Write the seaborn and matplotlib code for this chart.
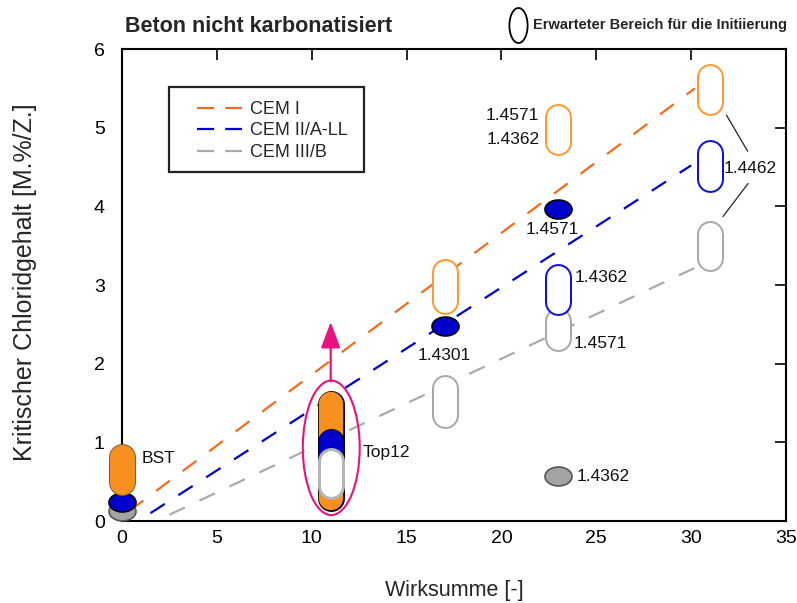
import numpy as np
import pandas as pd
import seaborn as sns
import matplotlib.pyplot as plt
from matplotlib.path import Path
from matplotlib.patches import Ellipse, Rectangle
from matplotlib.lines import Line2D

# trend lines (start / end)
cem1_x = [0.4, 30.2]
cem1_y = [0.13, 5.50]
cem2_x = [1.5, 30.0]
cem2_y = [0.10, 4.52]
cem3_x = [2.5, 30.3]
cem3_y = [0.08, 3.23]
series_names = ["CEM I", "CEM II/A-LL", "CEM III/B"]

# expected ranges (open capsules): x, lower, upper
orange_rng_x = [17, 23, 31]
orange_rng_lo = [2.62, 4.65, 5.16]
orange_rng_hi = [3.34, 5.31, 5.82]
blue_rng_x = [23, 31]
blue_rng_lo = [2.61, 4.18]
blue_rng_hi = [3.27, 4.85]
gray_rng_x = [17, 23, 31]
gray_rng_lo = [1.18, 2.15, 3.17]
gray_rng_hi = [1.86, 2.72, 3.82]

# measured ranges (filled capsules)
bst_x = 0
bst_rng = [0.33, 0.99]
top12_x = 11
top12_orange = [0.12, 1.66]
top12_blue = [0.60, 1.18]
top12_white = [0.27, 0.93]

# single measured values (filled ellipses)
blue_pts_x = [0, 17, 23]
blue_pts_y = [0.245, 2.48, 3.97]
gray_pts_x = [0, 23]
gray_pts_y = [0.13, 0.57]

# text labels: x, y, text, alignment
label_x = [1.05, 12.7, 17.0, 22.7, 23.85, 23.8, 22.0, 22.0, 31.7, 23.95]
label_y = [0.80, 0.87, 2.11, 3.70, 3.10, 2.26, 5.16, 4.85, 4.48, 0.57]
label_txt = ["BST", "Top12", "1.4301", "1.4571", "1.4362", "1.4571",
             "1.4571", "1.4362", "1.4462", "1.4362"]
label_ha = ["left", "left", "center", "center", "left", "left",
            "right", "right", "left", "left"]

# leader lines for 1.4462 (from label to capsule)
leader_from = [(32.98, 4.70), (33.0, 4.29)]
leader_to = [(31.86, 5.16), (31.68, 3.87)]

ORANGE_LINE = "#F26B1D"
ORANGE = "#F7901E"
BLUE = "#0000CC"
GRAY_LINE = "#AAAAAA"
GRAY = "#A3A3A3"
MAGENTA = "#E8127F"

sns.set_theme(style="white")
plt.rcParams["font.family"] = ["Liberation Sans", "DejaVu Sans"]

fig = plt.figure(figsize=(7.97, 6.03), dpi=100)
ax = fig.add_axes([122 / 797, 82 / 603, 664 / 797, 472 / 603])
ax.set_xlim(0, 35)
ax.set_ylim(0, 6)

px_per_y = ax.transData.transform((0, 1))[1] - ax.transData.transform((0, 0))[1]
PT = 72 / fig.dpi


def capsule(x, lo, hi, face, edge, width=27, edge_px=2.0, z=3):
    r = width / 2 / px_per_y
    ax.plot([x, x], [lo + r, hi - r], color=edge, lw=width * PT,
            solid_capstyle="round", zorder=z, clip_on=False)
    ax.plot([x, x], [lo + r, hi - r], color=face, lw=(width - 2 * edge_px) * PT,
            solid_capstyle="round", zorder=z + 0.01, clip_on=False)


dash = (0, (7.7, 7.2))
lines = pd.concat([
    pd.DataFrame({"x": cem1_x, "y": cem1_y, "s": series_names[0]}),
    pd.DataFrame({"x": cem2_x, "y": cem2_y, "s": series_names[1]}),
    pd.DataFrame({"x": cem3_x, "y": cem3_y, "s": series_names[2]}),
])
colors = [ORANGE_LINE, BLUE, GRAY_LINE]
for name, col in zip(series_names, colors):
    d = lines[lines["s"] == name]
    sns.lineplot(data=d, x="x", y="y", color=col, lw=1.6, linestyle=dash,
                 errorbar=None, ax=ax, zorder=2)

# open capsules
for x, lo, hi in zip(gray_rng_x, gray_rng_lo, gray_rng_hi):
    capsule(x, lo, hi, "white", "#A8A8A8", z=3)
for x, lo, hi in zip(orange_rng_x, orange_rng_lo, orange_rng_hi):
    capsule(x, lo, hi, "white", "#FF9A2E", z=3.2)
for x, lo, hi in zip(blue_rng_x, blue_rng_lo, blue_rng_hi):
    capsule(x, lo, hi, "white", "#1010D8", z=3.4)

# ellipse markers
t = np.linspace(0, 2 * np.pi, 80)
ell = Path(np.column_stack([np.cos(t), 0.7 * np.sin(t)]), closed=True)
sns.scatterplot(x=gray_pts_x, y=gray_pts_y, marker=ell, s=(27 * PT) ** 2,
                color=GRAY, edgecolor="#555555", linewidth=1.2, zorder=5,
                clip_on=False, ax=ax)
sns.scatterplot(x=blue_pts_x, y=blue_pts_y, marker=ell, s=(27 * PT) ** 2,
                color=BLUE, edgecolor="black", linewidth=1.2, zorder=5.2,
                clip_on=False, ax=ax)

# filled capsules
capsule(bst_x, bst_rng[0], bst_rng[1], ORANGE, "#7a5a3a", edge_px=1.0, z=5.5)
capsule(top12_x, top12_orange[0], top12_orange[1], ORANGE, "black", edge_px=1.3, z=6)
capsule(top12_x, top12_blue[0], top12_blue[1], BLUE, "black", edge_px=1.3, z=6.2)
capsule(top12_x, top12_white[0], top12_white[1], "white", "#B5B5B5", edge_px=3, z=6.4)

# highlight ellipse and arrow around Top12
ax.add_patch(Ellipse((11.03, 0.93), 3.0, 1.71, fill=False, edgecolor=MAGENTA,
                     lw=1.5, zorder=7))
ax.annotate("", xy=(11, 2.53), xytext=(11, 1.78),
            arrowprops=dict(arrowstyle="-|>,head_length=0.4,head_width=0.15",
                            mutation_scale=40, color=MAGENTA, lw=1.6,
                            shrinkA=0, shrinkB=0), zorder=7)

for x, y, s, ha in zip(label_x, label_y, label_txt, label_ha):
    ax.text(x, y, s, ha=ha, va="center", fontsize=12.5, color="#111111", zorder=8)
for a, b in zip(leader_from, leader_to):
    ax.annotate("", xy=b, xytext=a,
                arrowprops=dict(arrowstyle="-", color="#222222", lw=0.9,
                                shrinkA=0, shrinkB=0))

# legend with square frame
ax.add_patch(Rectangle((0.071, 0.740), 0.2937, 0.180, transform=ax.transAxes,
                       fill=False, edgecolor="#222222", lw=1.6, zorder=9))
handles = [Line2D([], [], color=c, lw=1.6, linestyle=(0, (7.7, 5.0))) for c in colors]
ax.legend(handles, series_names, loc="upper left", bbox_to_anchor=(0.113, 0.89),
          frameon=False, fontsize=13, handlelength=2.5, handletextpad=0.45,
          labelspacing=0.25, borderpad=0, borderaxespad=0)

# header texts
ax.text(0.005, 1.047, "Beton nicht karbonatisiert", transform=ax.transAxes,
        ha="left", va="center", fontsize=15.5, fontweight="bold")
note_ell = Path(np.column_stack([0.52 * np.cos(t), np.sin(t)]), closed=True)
ax.plot([0.596], [1.051], transform=ax.transAxes, marker=note_ell, ms=35 * PT,
        mfc="white", mec="black", mew=1.3, clip_on=False)
ax.text(0.619, 1.051, "Erwarteter Bereich für die Initiierung", transform=ax.transAxes,
        ha="left", va="center", fontsize=10.5, fontweight="bold")

ax.set_xticks(np.arange(0, 36, 5))
ax.set_yticks(np.arange(0, 7, 1))
ax.tick_params(direction="in", length=8, width=1.2, top=True, right=True,
               labelsize=14, colors="black")
ax.tick_params(axis="x", pad=6.5)
ax.tick_params(axis="y", pad=12.5)
for sp in ax.spines.values():
    sp.set_linewidth(1.5)
    sp.set_color("black")

ax.set_xlabel("Wirksumme [-]", fontsize=15.5)
ax.set_ylabel("Kritischer Chloridgehalt [M.%/Z.]", fontsize=18)
ax.xaxis.set_label_coords(0.5, -0.125)
ax.yaxis.set_label_coords(-0.128, 0.505)

fig.savefig("out.png", dpi=100)
